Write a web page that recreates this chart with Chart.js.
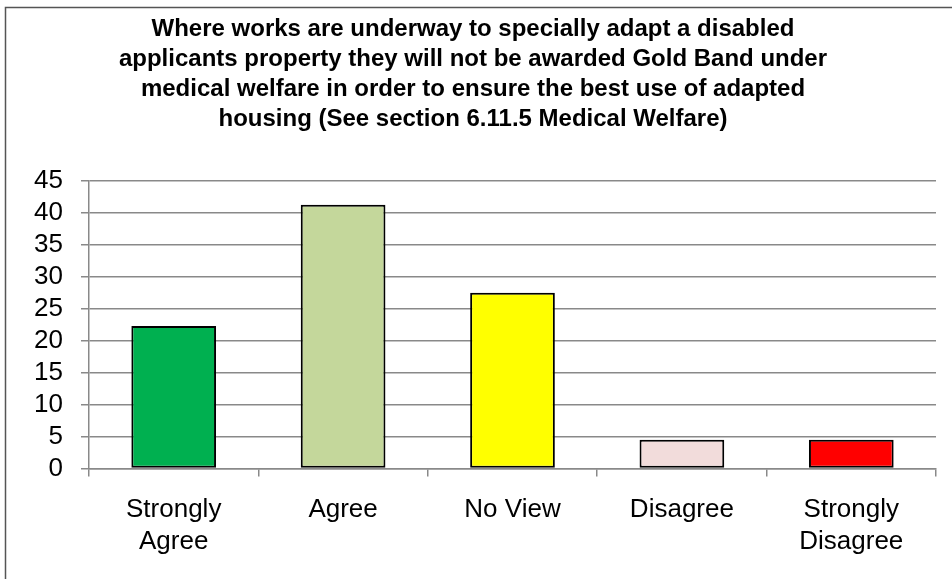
<!DOCTYPE html>
<html lang="en">
<head>
  <meta charset="UTF-8" />
  <title>Gold Band - Medical Welfare</title>
  <style>
    body {
      margin: 0;
      background-color: white;
      overflow: hidden;
    }
    .wrap {
      position: relative;
      width: 952px;
      height: 579px;
    }
  </style>
</head>
<body>
  <div class="wrap">
    <canvas id="chart" width="952" height="579"></canvas>
  </div>

  <script src="https://cdn.jsdelivr.net/npm/chart.js"></script>
  <script>
    const categories = [['Strongly', 'Agree'], 'Agree', 'No View', 'Disagree', ['Strongly', 'Disagree']];
    const values = [22.3, 41.3, 27.5, 4.5, 4.5];
    const barColours = ['#00B050', '#C4D79B', '#FFFF00', '#F2DCDB', '#FF0000'];
    const titleLines = [
      'Where works are underway to specially adapt a disabled',
      'applicants property they will not be awarded Gold Band under',
      'medical welfare in order to ensure the best use of adapted',
      'housing (See section 6.11.5 Medical Welfare)'
    ];

    // frame round the chart, only left and top edges fall inside the picture
    const frame = {
      id: 'frame',
      beforeDraw(chart) {
        const c = chart.ctx;
        c.save();
        c.fillStyle = 'white';
        c.fillRect(0, 0, chart.width, chart.height);
        c.strokeStyle = '#555555';
        c.lineWidth = 1.5;
        c.strokeRect(5.5, 7.5, 1000, 1000);
        c.restore();
      }
    };

    const ctx = document.getElementById('chart').getContext('2d');
    new Chart(ctx, {
      type: 'bar',
      data: {
        labels: categories,
        datasets: [{
          data: values,
          backgroundColor: barColours,
          borderColor: '#000000',
          borderWidth: 2,
          borderSkipped: false,
          categoryPercentage: 1.0,
          barPercentage: 0.5
        }]
      },
      options: {
        responsive: false,
        animation: false,
        layout: {
          padding: { left: 10, right: 16, top: 0, bottom: 4 }
        },
        plugins: {
          legend: { display: false },
          tooltip: { enabled: false },
          title: {
            display: true,
            text: titleLines,
            color: '#000000',
            font: { family: 'Liberation Sans', size: 24, weight: 'bold', lineHeight: 1.25 },
            padding: { top: 14, bottom: 47 }
          }
        },
        scales: {
          x: {
            grid: {
              display: true,
              drawOnChartArea: false,
              drawTicks: true,
              tickLength: 8,
              color: '#898989',
              lineWidth: 1.5
            },
            border: { color: '#898989', width: 1.5 },
            ticks: {
              color: '#000000',
              padding: 18,
              maxRotation: 0,
              font: { family: 'Liberation Sans', size: 26, lineHeight: 1.2 }
            }
          },
          y: {
            min: 0,
            max: 45,
            afterFit(scale) { scale.width = 79; },
            grid: {
              color: '#898989',
              lineWidth: 1.5,
              drawTicks: true,
              tickLength: 8
            },
            border: { color: '#898989', width: 1.5 },
            ticks: {
              stepSize: 5,
              autoSkip: false,
              color: '#000000',
              padding: 18,
              font: { family: 'Liberation Sans', size: 26 }
            }
          }
        }
      },
      plugins: [frame]
    });
  </script>
</body>
</html>
